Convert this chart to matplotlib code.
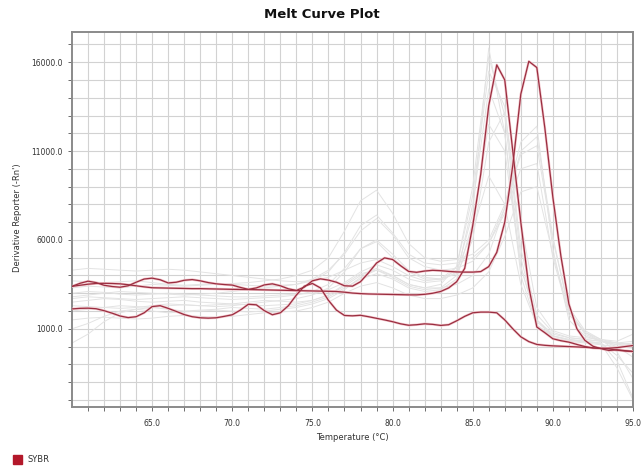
import numpy as np
import matplotlib
matplotlib.use("Agg")
import matplotlib.pyplot as plt
from matplotlib.patches import Rectangle

# ---------------- data ----------------
temp_red = [60 + 0.5 * i for i in range(71)]

red_a = [3390, 3450, 3510, 3550, 3560, 3550, 3530, 3480, 3420, 3360,
         3310, 3300, 3290, 3280, 3270, 3260, 3260, 3250, 3240, 3230,
         3220, 3215, 3210, 3200, 3190, 3180, 3170, 3160, 3150, 3140,
         3130, 3120, 3110, 3100, 3060, 3010, 2980, 2960, 2950, 2940,
         2930, 2920, 2910, 2910, 2940, 3000, 3100, 3300, 3650, 4400,
         6800, 9700, 13550, 15850, 15000, 11000, 7000, 3350, 1100, 780,
         440, 330, 250, 120, 0, -80, -100, -90, -60, 0, 60]

red_b = [3390, 3560, 3680, 3600, 3450, 3380, 3340, 3420, 3620, 3800,
         3850, 3760, 3580, 3620, 3730, 3770, 3700, 3600, 3530, 3490,
         3460, 3330, 3220, 3300, 3470, 3530, 3420, 3250, 3160, 3350,
         3700, 3810, 3740, 3620, 3420, 3400, 3650, 4150, 4700, 4990,
         4900, 4550, 4230, 4180, 4250, 4290, 4270, 4230, 4200, 4190,
         4190, 4220, 4500, 5300, 7000, 10200, 14200, 16050, 15700, 12300,
         8400, 5100, 2400, 1000, 350, 20, -120, -220, -180, -230, -280]

red_c = [2120, 2150, 2160, 2130, 2020, 1880, 1720, 1630, 1680, 1900,
         2250, 2300, 2150, 1980, 1800, 1680, 1620, 1600, 1620, 1700,
         1790, 2050, 2380, 2350, 2020, 1790, 1900, 2300, 2900, 3400,
         3550, 3300, 2600, 2050, 1750, 1730, 1760, 1680, 1590, 1500,
         1400, 1280, 1200, 1230, 1280, 1250, 1190, 1230, 1450, 1700,
         1900, 1940, 1940, 1900, 1500, 1000, 550, 280, 120, 70,
         40, 20, 0, -20, -40, -70, -100, -130, -200, -250, -270]

temp_gray = list(range(60, 96))

gray_curves = [
    [3000, 3100, 3050, 2950, 2900, 2950, 3000, 2950, 2900, 2850, 2800, 2800, 2850, 2900, 2950, 3000,
     3200, 3600, 4200, 4600, 4300, 3800, 3600, 3700, 4200, 7500, 16800, 12000, 4000, 1200, 500, 300,
     200, 100, 0, -100],
    [2500, 2600, 2700, 2650, 2550, 2500, 2550, 2600, 2500, 2450, 2400, 2500, 2600, 2550, 2500, 2600,
     2900, 3400, 4000, 4400, 4000, 3500, 3300, 3500, 4500, 9000, 16300, 13000, 5000, 1500, 600, 400,
     300, 200, -500, -1500],
    [3300, 3400, 3350, 3300, 3400, 3500, 3450, 3400, 3450, 3500, 3550, 3600, 3700, 3800, 4000, 4300,
     5000, 6500, 8200, 8800, 7500, 5800, 5000, 4800, 4900, 5200, 6000, 8000, 11500, 12400, 5500, 1500,
     600, 300, 100, 0],
    [2800, 2900, 3000, 3100, 3050, 3000, 2950, 2900, 2950, 3000, 3100, 3200, 3300, 3400, 3500, 3800,
     4300, 5200, 6500, 7200, 6300, 5000, 4500, 4300, 4400, 4800, 5800, 7500, 10000, 10300, 5000, 1800,
     800, 400, 200, 100],
    [2000, 2100, 2200, 2300, 2250, 2200, 2300, 2350, 2300, 2250, 2300, 2400, 2500, 2600, 2700, 2900,
     3300, 4200, 5500, 6000, 5200, 4300, 3900, 3800, 4300, 6500, 9600, 8000, 3500, 1200, 600, 400,
     300, 200, -800, -2900],
    [200, 700, 1400, 1900, 2100, 2200, 2100, 2000, 2050, 2100, 2200, 2150, 2100, 2200, 2300, 2500,
     2800, 3300, 3800, 4100, 3800, 3300, 3100, 3200, 3800, 7000, 12500, 11000, 4500, 1500, 700, 500,
     400, 300, 200, 300],
    [1500, 1600, 1650, 1600, 1550, 1600, 1700, 1750, 1700, 1650, 1700, 1800, 1900, 1950, 2000, 2200,
     2500, 3000, 3400, 3600, 3300, 2900, 2700, 2700, 2900, 3300, 4200, 6200, 8700, 9000, 5200, 2000,
     800, 300, 0, -600],
    [4300, 4400, 4350, 4300, 4250, 4300, 4350, 4300, 4200, 4100, 4000, 3900, 3800, 3700, 3650, 3700,
     3900, 4300, 4700, 4900, 4500, 4000, 3700, 3800, 4500, 8500, 15500, 13500, 5500, 1800, 800, 500,
     400, 300, 200, 100],
    [2700, 2800, 2750, 2700, 2650, 2700, 2750, 2800, 2750, 2700, 2650, 2700, 2750, 2800, 2900, 3100,
     3500, 4400, 5500, 5900, 5000, 4200, 3800, 3800, 4100, 6000, 11500, 13200, 7000, 2200, 900, 600,
     500, 400, 300, 700],
    [1000, 1300, 1700, 2000, 2100, 2000, 1900, 1950, 2000, 2050, 2000, 1950, 2000, 2100, 2200, 2400,
     2700, 3200, 3900, 4300, 4000, 3500, 3300, 3300, 3500, 4000, 5200, 7800, 10800, 11300, 6000, 2200,
     900, 400, -300, -1800],
    [3700, 3650, 3600, 3650, 3700, 3600, 3500, 3450, 3500, 3550, 3500, 3450, 3400, 3450, 3500, 3700,
     4200, 5300, 6800, 7400, 6400, 5200, 4700, 4600, 4700, 5000, 5800, 7800, 11000, 11800, 6200, 2000,
     700, 300, 100, 200],
    [2300, 2250, 2200, 2150, 2200, 2300, 2400, 2350, 2300, 2350, 2400, 2350, 2300, 2350, 2400, 2600,
     2900, 3500, 4100, 4300, 3900, 3400, 3200, 3300, 4000, 8000, 14500, 12000, 4500, 1400, 600, 350,
     250, 150, -1200, -3000],
]

x_major = [65, 70, 75, 80, 85, 90, 95]
y_major = [1000, 6000, 11000, 16000]

# ---------------- figure ----------------
W, H = 643, 466
fig = plt.figure(figsize=(W / 100, H / 100), dpi=100)
ax = fig.add_axes([72 / W, 1 - 407 / H, (633 - 72) / W, (407 - 32) / H])

for g in gray_curves:
    ax.plot(temp_gray, g, color="#e3e3e3", lw=0.7, zorder=2)

red = "#9a2e40"
for r in (red_a, red_b, red_c):
    ax.plot(temp_red, r, color="#f3c6cc", lw=1.8, zorder=3, solid_capstyle="round")
    ax.plot(temp_red, r, color=red, lw=0.9, zorder=4)

ax.set_xlim(60, 95)
ax.set_ylim(-3400, 17700)

ax.set_xticks(x_major)
ax.set_xticklabels([f"{v:.1f}" for v in x_major])
ax.set_xticks(np.arange(61, 95, 1), minor=True)
ax.set_yticks(y_major)
ax.set_yticklabels([f"{v:.1f}" for v in y_major])
ax.set_yticks(np.arange(-3000, 17701, 1000), minor=True)

ax.grid(True, which="both", color="#d2d2d2", lw=0.8, zorder=0)
ax.set_axisbelow(True)
ax.tick_params(axis="both", which="both", labelsize=5.5, colors="#555555",
               labelcolor="#333333", length=3, width=0.6)
ax.tick_params(axis="x", pad=6)
for s in ax.spines.values():
    s.set_color("#8a8a8a")
    s.set_linewidth(1.4)

fig.text(0.5, 1 - 15 / H, "Melt Curve Plot", ha="center", va="center",
         fontsize=9.5, fontweight="bold", color="#111111")
fig.text((72 + 633) / 2 / W, 1 - 437 / H, "Temperature (°C)", ha="center",
         va="center", fontsize=6, color="#333333")
fig.text(18 / W, 1 - 218 / H, "Derivative Reporter (-Rn')", ha="center",
         va="center", rotation=90, fontsize=6, color="#333333")

fig.patches.append(Rectangle((13 / W, 1 - 464 / H), 9 / W, 9 / H,
                             transform=fig.transFigure, color="#b3182a"))
fig.text(27 / W, 1 - 460 / H, "SYBR", ha="left", va="center", fontsize=6,
         color="#333333")

fig.savefig("out.png", dpi=100)
